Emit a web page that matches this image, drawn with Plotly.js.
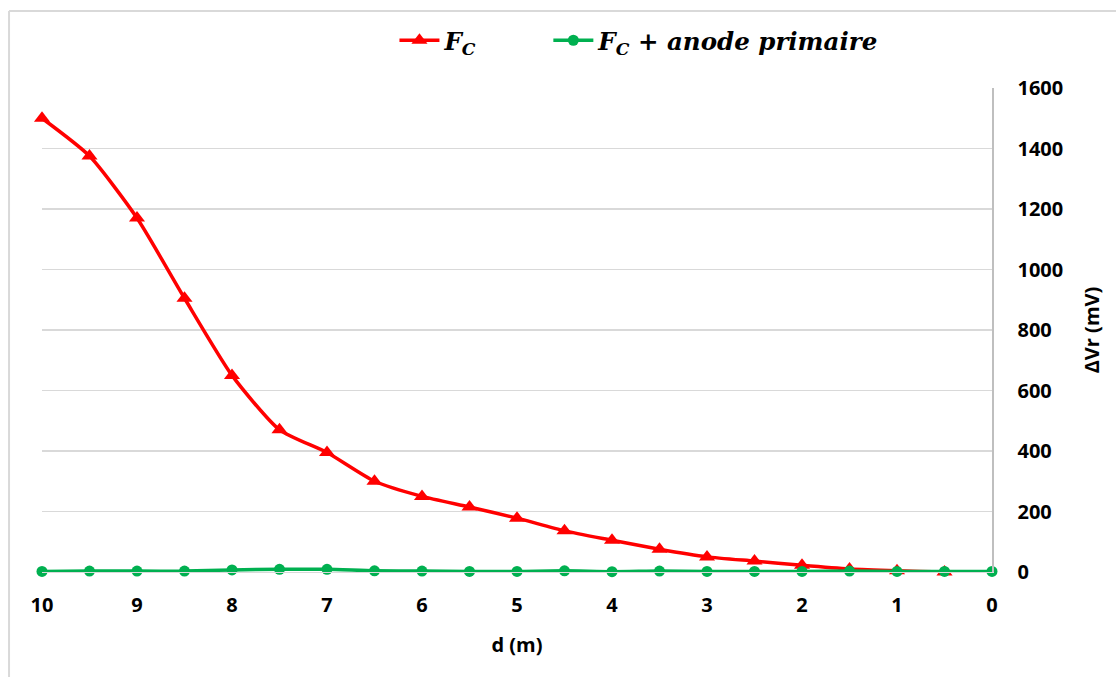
<!DOCTYPE html>
<html>
<head>
<meta charset="utf-8">
<script src="https://cdn.plot.ly/plotly-3.0.1.min.js"></script>
<style>html,body{margin:0;padding:0;background:#fff;}#chart{width:1116px;height:677px;}</style>
</head>
<body>
<div id="chart"></div>
<script>
const distances = [10, 9.5, 9, 8.5, 8, 7.5, 7, 6.5, 6, 5.5, 5, 4.5, 4, 3.5, 3, 2.5, 2, 1.5, 1, 0.5, 0];
const fcValues = [1500, 1375, 1170, 905, 650, 470, 395, 300, 250, 215, 178, 136, 105, 75, 50, 36, 22, 10, 4, 0, -2];
const fcAnodeValues = [2, 3, 3, 3, 7, 9, 9, 4, 3, 2, 2, 4, 1, 3, 2, 2, 2, 3, 2, 2, 2];
const xTicks = [10, 9, 8, 7, 6, 5, 4, 3, 2, 1, 0];
const yTicks = [0, 200, 400, 600, 800, 1000, 1200, 1400, 1600];
const seriesNames = ['<b><i>F<sub>C</sub></i></b>', '<b><i>F<sub>C</sub> + anode primaire</i></b>'];

const tickFont = {family: 'Open Sans, sans-serif', size: 20, color: '#000'};
const legendFont = {family: 'DejaVu Serif, serif', size: 24.5, color: '#000'};

const traces = [
  {
    x: distances, y: fcValues, name: seriesNames[0], type: 'scatter', mode: 'lines+markers',
    line: {color: '#ff0000', width: 3.5, shape: 'spline', smoothing: 0.6},
    marker: {symbol: 'triangle-up', size: 14, color: '#ff0000'},
    cliponaxis: false, legend: 'legend'
  },
  {
    x: distances, y: fcAnodeValues, name: seriesNames[1], type: 'scatter', mode: 'lines+markers',
    line: {color: '#00b050', width: 3.5, shape: 'spline', smoothing: 0.6},
    marker: {symbol: 'circle', size: 11, color: '#00b050'},
    cliponaxis: false, legend: 'legend2'
  }
];

const layout = {
  width: 1116, height: 677,
  margin: {l: 42, r: 124, t: 88, b: 105},
  paper_bgcolor: '#fff', plot_bgcolor: '#fff',
  showlegend: true,
  legend: {
    orientation: 'h', x: 0.371, xanchor: 'left', y: 1.145, yanchor: 'top',
    font: legendFont, itemwidth: 40, bgcolor: 'rgba(0,0,0,0)'
  },
  legend2: {
    orientation: 'h', x: 0.533, xanchor: 'left', y: 1.145, yanchor: 'top',
    font: legendFont, itemwidth: 40, bgcolor: 'rgba(0,0,0,0)'
  },
  xaxis: {
    range: [10, 0], tickvals: xTicks, ticktext: xTicks.map(v => '<b>' + v + '</b>'),
    showgrid: false, zeroline: false, showline: true, linecolor: '#d9d9d9', linewidth: 1,
    ticks: '', ticklabelstandoff: 15, tickfont: tickFont,
    title: {text: '<b>d (m)</b>', font: {family: 'Open Sans, sans-serif', size: 20, color: '#000'}, standoff: 20}
  },
  yaxis: {
    side: 'right', range: [0, 1600], tickvals: yTicks, ticktext: yTicks.map(v => '<b>' + v + '</b>'),
    showgrid: true, gridcolor: '#d9d9d9', gridwidth: 1.5, zeroline: false,
    showline: true, linecolor: '#bfbfbf', linewidth: 1.5,
    ticks: '', ticklabelstandoff: 20, tickfont: tickFont,
    title: {text: '<b>ΔVr (mV)</b>', font: {family: 'Open Sans, sans-serif', size: 20, color: '#000'}, standoff: 22}
  },
  shapes: [
    {type: 'line', xref: 'paper', yref: 'paper', x0: -0.0347, x1: 1.14, y0: 1.159, y1: 1.159, line: {color: '#d9d9d9', width: 2}},
    {type: 'line', xref: 'paper', yref: 'paper', x0: -0.0347, x1: -0.0347, y0: 1.159, y1: -0.23, line: {color: '#d9d9d9', width: 2}}
  ]
};

Plotly.newPlot('chart', traces, layout, {displayModeBar: false, staticPlot: true});
</script>
</body>
</html>
